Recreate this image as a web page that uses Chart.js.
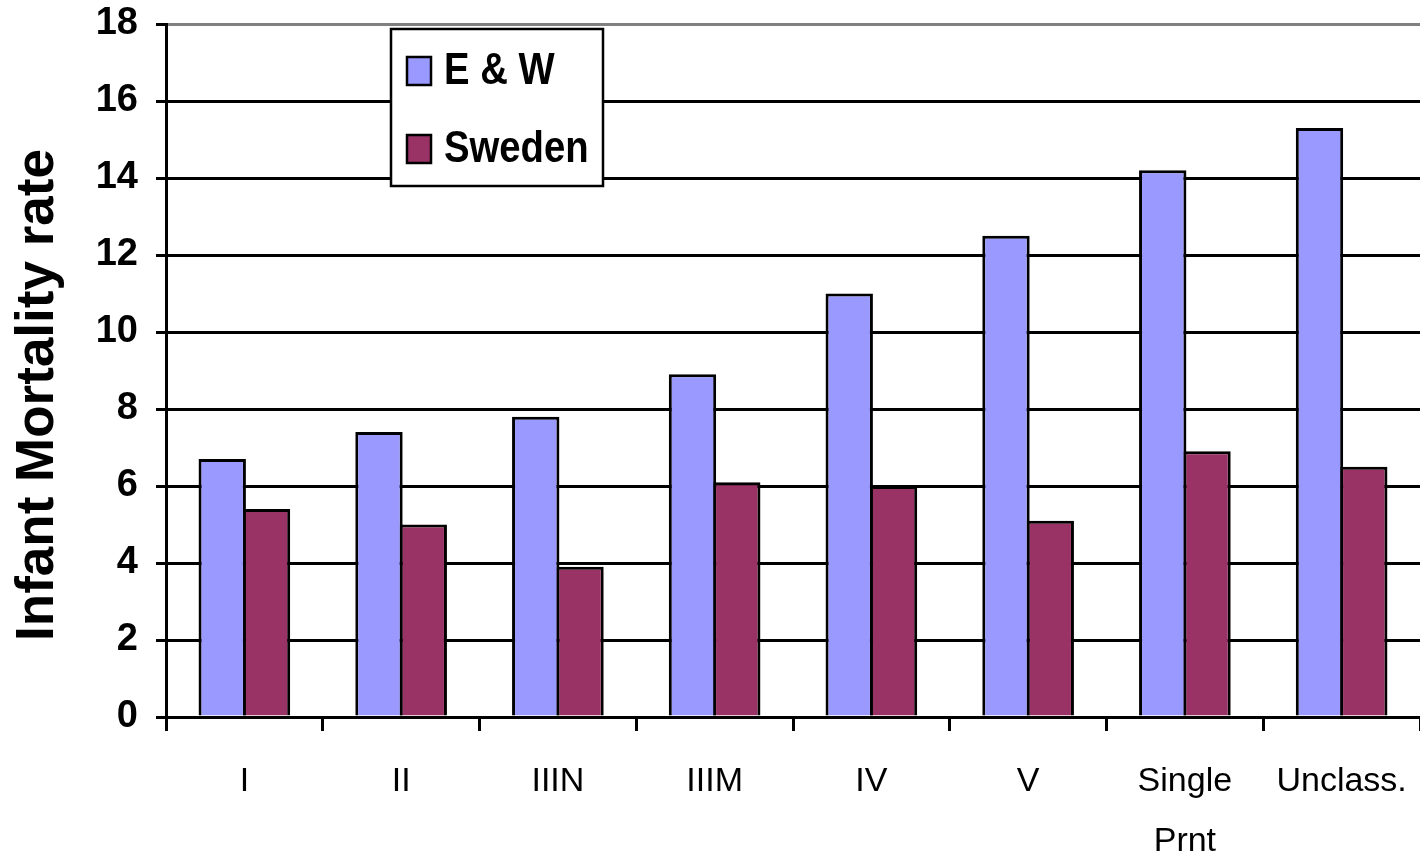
<!DOCTYPE html>
<html>
<head>
<meta charset="utf-8">
<script src="https://cdn.jsdelivr.net/npm/chart.js@4/dist/chart.umd.min.js"></script>
<style>
  html, body { margin: 0; padding: 0; background: #ffffff; }
  #wrap { width: 1420px; height: 857px; position: relative; }
</style>
</head>
<body>
<div id="wrap"><canvas id="c" width="1420" height="857"></canvas></div>
<script>
const categories = ["I", "II", "IIIN", "IIIM", "IV", "V", ["Single", "Prnt"], "Unclass."];
const seriesNames = ["E & W", "Sweden"];
const ewValues = [6.7, 7.4, 7.8, 8.9, 11.0, 12.5, 14.2, 15.3];
const swedenValues = [5.4, 5.0, 3.9, 6.1, 6.0, 5.1, 6.9, 6.5];
const yTicks = [0, 2, 4, 6, 8, 10, 12, 14, 16, 18];
const yAxisTitle = "Infant Mortality rate";

const SANS = "'Liberation Sans', Arial, sans-serif";

const boxLegend = {
  id: 'boxLegend',
  afterDraw(chart) {
    const ctx = chart.ctx;
    const x = 391, y = 29, w = 212, h = 157;
    ctx.save();
    ctx.fillStyle = '#ffffff';
    ctx.fillRect(x, y, w, h);
    ctx.strokeStyle = '#000000';
    ctx.lineWidth = 2.5;
    ctx.strokeRect(x, y, w, h);
    const rows = [71, 149];
    chart.data.datasets.forEach((ds, i) => {
      const cy = rows[i];
      ctx.fillStyle = ds.backgroundColor;
      ctx.fillRect(407, cy - 14, 24, 28);
      ctx.lineWidth = 2.5;
      ctx.strokeStyle = '#000';
      ctx.strokeRect(407, cy - 14, 24, 28);
      ctx.save();
      ctx.translate(444, cy + 1);
      ctx.scale(0.87, 1);
      ctx.fillStyle = '#000';
      ctx.font = "bold 44px " + SANS;
      ctx.textBaseline = 'middle';
      ctx.textAlign = 'left';
      ctx.fillText(ds.label, 0, 0);
      ctx.restore();
    });
    ctx.restore();
  }
};

const axisTitle = {
  id: 'axisTitle',
  afterDraw(chart) {
    const ctx = chart.ctx;
    ctx.save();
    ctx.translate(38, 395);
    ctx.rotate(-Math.PI / 2);
    ctx.fillStyle = '#000';
    ctx.font = "bold 53px " + SANS;
    ctx.textAlign = 'center';
    ctx.textBaseline = 'middle';
    ctx.fillText(yAxisTitle, 0, 0);
    ctx.restore();
  }
};

new Chart(document.getElementById('c'), {
  type: 'bar',
  data: {
    labels: categories,
    datasets: [
      { label: seriesNames[0], data: ewValues, backgroundColor: '#9999FF', borderColor: '#000000', borderWidth: 3 },
      { label: seriesNames[1], data: swedenValues, backgroundColor: '#993366', borderColor: '#000000', borderWidth: 3 }
    ]
  },
  options: {
    responsive: false,
    animation: false,
    devicePixelRatio: 1,
    layout: { padding: { top: 24, right: 0, left: 0, bottom: 0 }, autoPadding: false },
    plugins: { legend: { display: false }, tooltip: { enabled: false } },
    datasets: { bar: { barPercentage: 1.07, categoryPercentage: 0.565 } },
    scales: {
      x: {
        grid: { offset: true, drawOnChartArea: false, drawTicks: true, tickLength: 14, tickWidth: 3, tickColor: '#000' },
        border: { display: true, color: '#000', width: 3 },
        ticks: { color: '#000', font: { family: SANS, size: 34, lineHeight: 1.75 }, padding: 21, maxRotation: 0, autoSkip: false },
        afterFit(scale) { scale.height = 140; scale.paddingLeft = 0; scale.paddingRight = 0; }
      },
      y: {
        min: 0, max: 18,
        afterBuildTicks(scale) { scale.ticks = yTicks.map(v => ({ value: v })); },
        grid: {
          color: (c) => (c.tick && c.tick.value === 18) ? '#808080' : '#000000',
          lineWidth: 3, tickLength: 10, tickWidth: 3, tickColor: '#000'
        },
        border: { display: true, color: '#000', width: 3 },
        ticks: { color: '#000', font: { family: SANS, size: 38, weight: 'bold' }, padding: 18 },
        title: { display: false },
        afterFit(scale) { scale.width = 166; scale.paddingTop = 0; scale.paddingBottom = 0; }
      }
    }
  },
  plugins: [boxLegend, axisTitle]
});
</script>
</body>
</html>
